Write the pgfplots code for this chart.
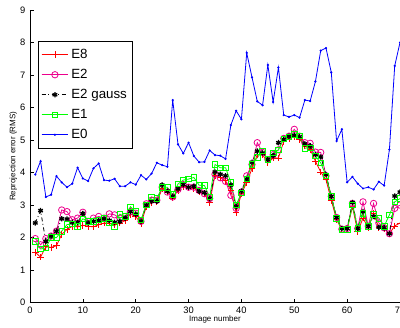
\documentclass[border=0pt]{standalone}
\usepackage{fontspec}
\setmainfont{Liberation Sans}
\usepackage{pgfplots}
\usepackage{pgfplotstable}
\pgfplotsset{compat=1.18}

\pgfplotstableread{
x  e8   e2   eg   e1   e0
1  1.55 1.97 2.45 1.88 3.94
2  1.40 1.78 2.83 1.65 4.35
3  1.72 1.97 1.88 1.68 3.25
4  1.70 2.05 2.05 2.00 3.32
5  1.75 2.20 2.20 2.00 3.89
6  2.10 2.85 2.58 2.20 3.70
7  2.25 2.80 2.57 2.40 3.55
8  2.35 2.55 2.47 2.42 3.66
9  2.33 2.60 2.47 2.35 4.15
10 2.38 2.78 2.74 2.58 3.82
11 2.35 2.50 2.45 2.50 3.74
12 2.33 2.60 2.50 2.50 4.13
13 2.40 2.65 2.53 2.55 4.28
14 2.45 2.60 2.58 2.60 3.77
15 2.45 2.73 2.53 2.45 3.75
16 2.40 2.70 2.47 2.35 3.81
17 2.45 2.60 2.50 2.72 3.58
18 2.52 2.65 2.60 2.65 3.58
19 2.72 2.80 2.80 2.95 3.70
20 2.65 2.75 2.72 2.80 3.63
21 2.43 2.50 2.50 2.55 3.92
22 2.95 3.04 3.00 3.00 3.79
23 3.08 3.15 3.12 3.25 3.97
24 3.10 3.15 3.12 3.20 4.30
25 3.50 3.55 3.62 3.55 4.23
26 3.40 3.40 3.43 3.55 4.18
27 3.22 3.25 3.27 3.32 6.23
28 3.45 3.48 3.50 3.65 4.87
29 3.58 3.63 3.63 3.77 4.59
30 3.55 3.55 3.55 3.80 4.92
31 3.52 3.55 3.58 3.85 4.51
32 3.40 3.45 3.43 3.61 4.32
33 3.35 3.35 3.38 3.60 4.33
34 3.08 3.20 3.20 3.25 4.68
35 3.92 3.95 4.02 4.25 4.54
36 3.85 3.84 3.95 4.15 4.52
37 3.75 3.73 3.90 4.15 4.42
38 3.45 3.30 3.62 3.70 5.46
39 2.78 2.90 2.95 3.00 5.90
40 3.35 3.40 3.43 3.38 5.64
41 3.70 3.90 3.80 3.80 7.68
42 4.12 4.25 4.32 4.25 6.93
43 4.55 4.92 4.66 4.46 6.19
44 4.55 4.62 4.60 4.67 6.07
45 4.30 4.40 4.40 4.40 7.31
46 4.45 4.55 4.52 4.60 6.17
47 4.45 4.70 4.92 4.70 7.23
48 4.95 5.05 5.02 5.04 5.77
49 5.05 5.12 5.12 5.10 5.71
50 5.10 5.33 5.15 5.17 5.77
51 5.02 5.12 5.10 5.13 5.69
52 4.82 4.92 4.88 4.75 6.23
53 4.72 4.90 4.82 4.76 6.20
54 4.35 4.63 4.55 4.51 6.80
55 4.02 4.62 4.48 4.30 7.75
56 3.78 3.90 3.94 3.90 7.83
57 3.15 3.27 3.27 3.27 7.08
58 2.55 2.62 2.62 2.60 4.97
59 2.25 2.26 2.28 2.24 5.33
60 2.25 2.28 2.28 2.26 3.70
61 2.95 3.05 3.08 3.00 3.87
62 2.18 2.28 2.28 2.28 3.66
63 2.60 3.10 2.80 2.75 3.51
64 2.30 2.35 2.35 2.35 3.55
65 2.75 3.05 2.65 2.72 3.48
66 2.30 2.45 2.32 2.60 3.72
67 2.28 2.30 2.30 2.35 3.60
68 2.12 2.12 2.12 2.70 4.71
69 2.36 2.90 3.28 3.10 7.28
70 2.45 3.00 3.40 3.20 8.00
}\data

\begin{document}
\begin{tikzpicture}
\begin{axis}[
  scale only axis, width=277.5pt, height=219.5pt,
  xmin=0, xmax=70, ymin=0, ymax=9,
  xtick={0,10,...,70}, ytick={0,1,...,9},
  axis x line*=bottom, axis y line*=left,
  axis line style={-, line width=0.6pt},
  tick align=inside, major tick length=3pt,
  tick style={black, line width=0.5pt},
  tick label style={font=\fontsize{7}{8}\selectfont},
  /pgf/number format/assume math mode=true,
  label style={font=\fontsize{6}{7}\selectfont},
  xlabel={Image number}, ylabel={Reprojection error (RMS)},
  x label style={at={(axis description cs:0.5,-0.059)}, anchor=center},
  y label style={at={(axis description cs:-0.045,0.5)}, anchor=center},
  legend style={at={(axis description cs:0.022,0.894)}, anchor=north west,
    draw=black, line width=0.6pt, fill=white, font=\fontsize{10}{12}\selectfont,
    inner xsep=2pt, inner ysep=2.5pt,
    nodes={text height=8pt, text depth=3pt}},
  legend cell align=left,
  legend image code/.code={\draw[#1] (0pt,0pt) -- (20pt,0pt); \draw[#1, mark repeat=2, mark phase=2] plot coordinates {(0pt,0pt) (10pt,0pt) (20pt,0pt)};},
  every axis plot/.append style={line width=0.6pt},
]
\addplot[color=red, mark=+, mark size=2.5pt] table[x=x, y=e8] {\data};
\addlegendentry{E8}
\addplot[color=magenta, mark=o, mark size=2.4pt] table[x=x, y=e2] {\data};
\addlegendentry{E2}
\addplot[color=black, dash dot, mark=asterisk, mark size=2pt, mark options={solid, line width=1pt}] table[x=x, y=eg] {\data};
\addlegendentry{E2 gauss}
\addplot[color=green, mark=square, mark size=2.1pt] table[x=x, y=e1] {\data};
\addlegendentry{E1}
\addplot[color=blue, mark=*, mark size=0.5pt] table[x=x, y=e0] {\data};
\addlegendentry{E0}
\coordinate (ll) at (rel axis cs:0,0);
\coordinate (ur) at (rel axis cs:1,1);
\end{axis}
\pgfresetboundingbox
\path ([shift={(-22.5pt,-19pt)}]ll) rectangle ([shift={(0pt,7.5pt)}]ur);
\end{tikzpicture}
\end{document}
